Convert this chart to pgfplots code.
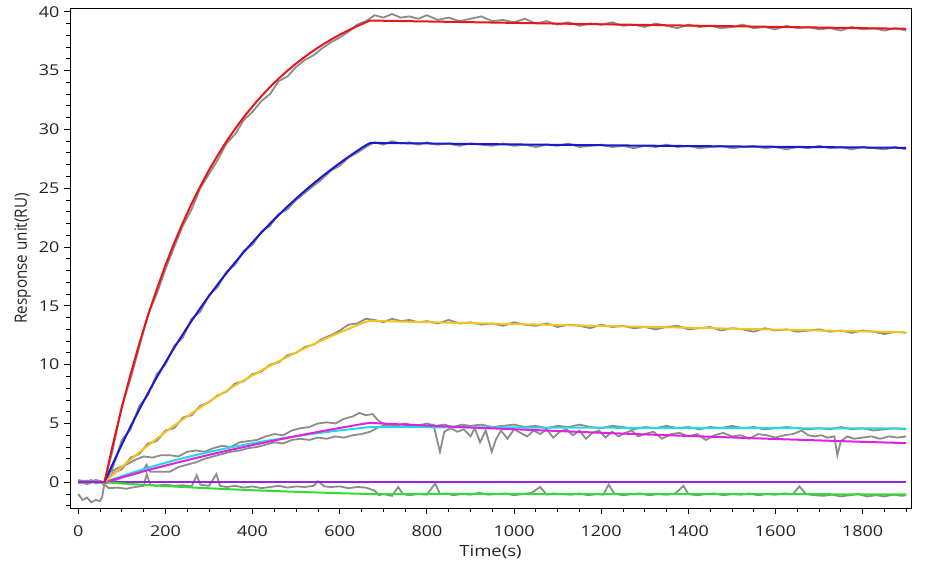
\documentclass[border=0pt]{standalone}
\usepackage{pgfplots}
\pgfplotsset{compat=1.18}
\usepackage{fontspec}
\setmainfont{Open Sans}
\newfontfamily\tickfont[FakeStretch=1.2]{Open Sans}
\newfontfamily\ylabfont[FakeStretch=0.9]{Open Sans}
\definecolor{cred}{RGB}{232,22,22}
\definecolor{cblue}{RGB}{25,25,205}
\definecolor{cyel}{RGB}{242,196,28}
\definecolor{ccyan}{RGB}{30,220,230}
\definecolor{cmag}{RGB}{228,30,228}
\definecolor{cpur}{RGB}{145,40,225}
\definecolor{cgreen}{RGB}{50,220,50}
\definecolor{cgray}{RGB}{140,140,140}
\definecolor{ctext}{RGB}{35,35,35}
\begin{document}
\begin{tikzpicture}
\begin{axis}[
  scale only axis, width=841bp, height=500bp,
  xmin=-19, xmax=1911, ymin=-2.21, ymax=40.29,
  axis line style={black, line width=0.9bp},
  tick pos=left, tick align=outside,
  xtick={0,200,...,1800}, minor xtick={0,50,...,1900},
  ytick={0,5,...,40}, minor ytick={-2,-1,...,40},
  major tick length=6bp, minor tick length=4bp,
  every tick/.style={black, line width=0.8bp},
  /pgf/number format/assume math mode=true,
  /pgf/number format/1000 sep={},
  tick label style={font=\tickfont\fontsize{15}{15}\selectfont, text=ctext},
  xticklabel style={anchor=base, yshift=-22bp},
  yticklabel style={anchor=east, xshift=-1bp},
  xlabel={Time(s)}, ylabel={Response unit(RU)},
  every axis x label/.style={at={([yshift=-47.7bp]axis description cs:0.5,0)}, anchor=base, font=\tickfont\fontsize{15.5}{15.5}\selectfont, text=ctext},
  every axis y label/.style={at={([xshift=-43bp]axis description cs:0,0.5)}, rotate=90, anchor=base, font=\ylabfont\fontsize{17}{17}\selectfont, text=ctext},
  clip=true,
]
% ---------- raw data (gray) ----------
\addplot[cgray, line width=1.8bp] coordinates {(0,0.1)(20,-0.1)(40,0.2)(60,0)(80,2.9)(100,6.5)(120,8.8)(140,11.5)(160,14.3)(180,16.0)(200,18.1)(220,20.0)(240,21.8)(260,23.2)(280,25.0)(300,26.2)(320,27.4)(340,28.8)(360,29.6)(380,30.8)(400,31.5)(420,32.4)(440,33.0)(460,34.1)(480,34.5)(500,35.3)(520,35.9)(540,36.3)(560,36.9)(580,37.4)(600,37.8)(620,38.3)(640,38.9)(660,39.2)(680,39.7)(700,39.5)(720,39.8)(740,39.5)(760,39.6)(780,39.4)(800,39.7)(825,39.3)(850,39.5)(875,39.2)(900,39.4)(925,39.6)(950,39.2)(975,39.3)(1000,39.1)(1025,39.4)(1050,39.0)(1075,39.2)(1100,38.9)(1125,39.1)(1150,38.8)(1175,39.0)(1200,38.9)(1225,39.1)(1250,38.8)(1275,38.9)(1300,38.7)(1325,39.0)(1350,38.8)(1375,38.6)(1400,38.9)(1425,38.7)(1450,38.8)(1475,38.6)(1500,38.7)(1525,38.9)(1550,38.6)(1575,38.7)(1600,38.5)(1625,38.8)(1650,38.6)(1675,38.7)(1700,38.5)(1725,38.6)(1750,38.4)(1775,38.7)(1800,38.5)(1825,38.6)(1850,38.4)(1875,38.6)(1900,38.4)};
\addplot[cgray, line width=1.8bp] coordinates {(0,-0.1)(20,0.15)(40,-0.05)(60,0)(80,1.3)(100,3.6)(120,4.5)(140,6.5)(160,7.4)(180,9.2)(200,10.0)(220,11.6)(240,12.3)(260,13.9)(280,14.5)(300,15.9)(320,16.6)(340,17.9)(360,18.5)(380,19.7)(400,20.2)(420,21.3)(440,21.8)(460,22.8)(480,23.2)(500,24.0)(520,24.6)(540,25.2)(560,25.8)(580,26.5)(600,26.9)(620,27.6)(640,28.0)(660,28.5)(680,28.9)(700,28.7)(720,29.0)(740,28.8)(760,28.9)(780,28.7)(800,28.9)(825,28.7)(850,28.8)(875,28.6)(900,28.8)(925,28.7)(950,28.6)(975,28.8)(1000,28.6)(1025,28.7)(1050,28.5)(1075,28.7)(1100,28.6)(1125,28.8)(1150,28.5)(1175,28.6)(1200,28.7)(1225,28.5)(1250,28.6)(1275,28.4)(1300,28.6)(1325,28.5)(1350,28.7)(1375,28.5)(1400,28.6)(1425,28.4)(1450,28.5)(1475,28.6)(1500,28.4)(1525,28.5)(1550,28.6)(1575,28.4)(1600,28.5)(1625,28.3)(1650,28.5)(1675,28.4)(1700,28.6)(1725,28.4)(1750,28.5)(1775,28.3)(1800,28.5)(1825,28.4)(1850,28.3)(1875,28.5)(1900,28.3)};
\addplot[cgray, line width=1.8bp] coordinates {(0,0.05)(20,-0.15)(40,0.1)(60,0)(80,0.8)(100,1.1)(120,2.1)(140,2.4)(160,3.3)(180,3.5)(200,4.4)(220,4.6)(240,5.5)(260,5.7)(280,6.5)(300,6.8)(320,7.4)(340,7.7)(360,8.4)(380,8.6)(400,9.2)(420,9.4)(440,10.0)(460,10.2)(480,10.8)(500,11.0)(520,11.5)(540,11.7)(560,12.2)(580,12.5)(600,12.9)(620,13.4)(640,13.5)(660,13.9)(680,13.8)(700,13.6)(720,13.9)(740,13.7)(760,13.8)(780,13.6)(800,13.7)(825,13.5)(850,13.8)(875,13.5)(900,13.6)(925,13.4)(950,13.5)(975,13.3)(1000,13.6)(1025,13.4)(1050,13.3)(1075,13.5)(1100,13.2)(1125,13.4)(1150,13.3)(1175,13.1)(1200,13.4)(1225,13.2)(1250,13.3)(1275,13.1)(1300,13.2)(1325,13.0)(1350,13.2)(1375,13.3)(1400,13.0)(1425,13.1)(1450,13.2)(1475,12.9)(1500,13.1)(1525,13.0)(1550,12.8)(1575,13.1)(1600,12.9)(1625,13.0)(1650,12.8)(1675,12.9)(1700,13.0)(1725,12.8)(1750,12.9)(1775,12.7)(1800,12.9)(1825,12.8)(1850,12.6)(1875,12.8)(1900,12.7)};
\addplot[cgray, line width=1.8bp] coordinates {(0,0.2)(20,0.0)(40,0.15)(60,0)(70,0.8)(90,1.2)(110,1.5)(130,1.9)(150,2.2)(170,2.1)(190,2.3)(210,2.3)(230,2.2)(250,2.6)(270,2.7)(290,2.6)(310,2.9)(330,3.1)(350,3.0)(370,3.4)(390,3.5)(410,3.6)(430,3.9)(450,4.1)(470,4.0)(490,4.4)(510,4.6)(530,4.7)(550,5.0)(570,5.1)(590,5.0)(610,5.4)(630,5.6)(645,5.9)(660,5.7)(675,5.8)(690,5.2)(705,4.9)(720,4.9)(740,4.7)(760,4.9)(780,4.8)(800,5.0)(820,4.8)(840,4.9)(860,4.7)(880,4.9)(900,4.8)(925,4.9)(950,4.7)(975,4.8)(1000,4.9)(1025,4.7)(1050,4.8)(1075,4.6)(1100,4.8)(1125,4.7)(1150,4.9)(1175,4.7)(1200,4.6)(1225,4.8)(1250,4.7)(1275,4.5)(1300,4.7)(1325,4.6)(1350,4.8)(1375,4.6)(1400,4.7)(1425,4.5)(1450,4.7)(1475,4.6)(1500,4.8)(1525,4.6)(1550,4.7)(1575,4.5)(1600,4.6)(1625,4.7)(1650,4.6)(1675,4.5)(1700,4.6)(1725,4.5)(1750,4.7)(1775,4.5)(1800,4.6)(1825,4.4)(1850,4.5)(1875,4.6)(1900,4.5)};
\addplot[cgray, line width=1.8bp] coordinates {(0,-1.0)(10,-1.5)(20,-1.3)(30,-1.7)(40,-1.5)(50,-1.6)(55,-1.2)(60,-0.1)(80,0.1)(100,0.4)(120,0.6)(140,0.8)(150,1.1)(157,1.5)(165,0.9)(190,0.9)(210,0.9)(230,1.3)(250,1.5)(270,1.7)(290,2.0)(310,2.2)(330,2.4)(350,2.6)(370,2.7)(390,2.9)(410,3.0)(430,3.2)(450,3.4)(470,3.3)(490,3.6)(510,3.7)(530,3.6)(550,3.8)(570,3.7)(590,3.9)(610,3.8)(630,4.0)(650,4.1)(670,4.3)(690,4.7)(710,4.9)(730,4.8)(750,5.0)(770,4.8)(790,4.9)(800,4.7)(815,4.9)(830,2.6)(840,4.3)(855,4.6)(870,4.3)(885,4.5)(900,3.9)(910,4.6)(922,3.4)(935,4.4)(949,2.6)(958,3.6)(970,4.4)(985,3.7)(1000,4.5)(1015,4.2)(1030,3.9)(1045,4.4)(1060,4.1)(1075,4.5)(1090,3.8)(1105,4.3)(1120,4.5)(1135,4.0)(1150,4.4)(1165,3.7)(1180,4.2)(1195,4.4)(1210,3.8)(1225,4.3)(1240,3.9)(1255,4.2)(1270,4.4)(1285,3.9)(1300,4.1)(1320,4.3)(1340,3.7)(1360,4.1)(1380,4.2)(1400,3.9)(1420,4.1)(1440,3.6)(1460,4.0)(1480,4.2)(1500,3.9)(1520,4.0)(1540,3.7)(1560,4.1)(1580,4.0)(1600,3.8)(1620,4.0)(1640,4.1)(1660,4.4)(1675,4.0)(1690,3.9)(1705,4.0)(1720,3.8)(1735,3.9)(1742,2.3)(1750,3.5)(1765,3.9)(1780,3.7)(1800,3.8)(1820,3.9)(1840,3.7)(1860,3.9)(1880,3.8)(1900,3.9)};
\addplot[cgray, line width=1.8bp] coordinates {(0,0.0)(10,0.15)(20,0.05)(30,0.2)(40,-0.1)(50,0.0)(60,-0.2)(70,-0.5)(90,-0.45)(110,-0.55)(130,-0.4)(150,-0.3)(157,0.7)(165,-0.2)(180,-0.3)(200,-0.2)(220,-0.3)(240,-0.25)(260,-0.35)(272,0.6)(280,-0.2)(300,-0.3)(317,0.7)(325,-0.3)(340,-0.4)(360,-0.3)(380,-0.45)(400,-0.35)(420,-0.5)(440,-0.4)(460,-0.3)(480,-0.45)(500,-0.35)(520,-0.4)(540,-0.3)(550,0.1)(565,-0.35)(580,-0.4)(600,-0.35)(620,-0.5)(640,-0.4)(660,-0.45)(680,-0.7)(690,-1.1)(700,-1.0)(720,-1.15)(734,-0.4)(745,-1.0)(760,-1.1)(780,-1.0)(800,-1.05)(819,-0.1)(830,-1.0)(845,-0.95)(860,-1.1)(880,-1.0)(900,-1.05)(920,-0.9)(940,-1.05)(960,-1.0)(980,-0.95)(1000,-1.1)(1020,-1.0)(1040,-0.9)(1060,-0.4)(1075,-1.05)(1090,-0.95)(1110,-1.0)(1130,-1.05)(1150,-0.95)(1170,-1.1)(1190,-1.0)(1205,-1.05)(1217,-0.2)(1230,-0.95)(1250,-1.1)(1270,-1.0)(1290,-0.95)(1310,-1.1)(1330,-1.0)(1350,-1.05)(1370,-0.95)(1389,-0.3)(1400,-1.0)(1420,-1.1)(1440,-1.0)(1460,-0.95)(1480,-1.1)(1500,-1.0)(1520,-1.05)(1540,-0.95)(1560,-1.1)(1580,-1.0)(1600,-1.05)(1620,-0.95)(1640,-1.0)(1655,-0.35)(1670,-1.0)(1690,-1.1)(1710,-1.15)(1730,-1.05)(1750,-1.2)(1770,-1.1)(1790,-1.0)(1810,-1.2)(1830,-1.1)(1850,-1.2)(1870,-1.05)(1890,-1.15)(1900,-1.1)};
% ---------- fits ----------
\addplot[cpur, line width=2bp] coordinates {(0,0)(1900,0)};
\addplot[cgreen, line width=2bp] coordinates {(60,0)(80,-0.050)(100,-0.099)(120,-0.146)(140,-0.192)(160,-0.237)(180,-0.280)(200,-0.321)(220,-0.361)(240,-0.400)(260,-0.438)(280,-0.475)(300,-0.510)(320,-0.544)(340,-0.578)(360,-0.610)(380,-0.641)(400,-0.671)(420,-0.701)(440,-0.729)(460,-0.756)(480,-0.783)(500,-0.809)(520,-0.834)(540,-0.858)(560,-0.881)(580,-0.904)(600,-0.926)(620,-0.947)(640,-0.968)(660,-0.987)(670,-0.997)(900,-0.99)(1200,-1.0)(1500,-1.01)(1900,-1.02)};
\addplot[ccyan, line width=2bp] coordinates {(60,0)(80,0.27)(100,0.52)(120,0.77)(140,1.00)(160,1.23)(180,1.45)(200,1.66)(220,1.86)(240,2.05)(260,2.23)(280,2.41)(300,2.57)(320,2.73)(340,2.89)(360,3.04)(380,3.18)(400,3.32)(420,3.45)(440,3.57)(460,3.69)(480,3.81)(500,3.92)(520,4.03)(540,4.13)(560,4.23)(580,4.32)(600,4.41)(620,4.49)(640,4.58)(660,4.66)(670,4.69)(700,4.70)(800,4.68)(1000,4.66)(1200,4.64)(1400,4.62)(1600,4.60)(1800,4.58)(1900,4.57)};
\addplot[cmag, line width=2bp] coordinates {(60,0)(80,0.214)(100,0.425)(120,0.631)(140,0.834)(160,1.033)(180,1.229)(200,1.421)(220,1.609)(240,1.795)(260,1.976)(280,2.155)(300,2.331)(320,2.503)(340,2.672)(360,2.839)(380,3.002)(400,3.163)(420,3.320)(440,3.476)(460,3.628)(480,3.778)(500,3.924)(520,4.068)(540,4.210)(560,4.349)(580,4.484)(600,4.619)(620,4.751)(640,4.880)(660,5.008)(670,5.05)(700,4.99)(800,4.82)(900,4.66)(1000,4.51)(1100,4.36)(1200,4.21)(1300,4.07)(1400,3.94)(1500,3.81)(1600,3.68)(1700,3.56)(1800,3.44)(1900,3.33)};
\addplot[cyel, line width=2bp] coordinates {(60,0)(80,0.66)(100,1.31)(120,1.93)(140,2.54)(160,3.13)(180,3.71)(200,4.27)(220,4.82)(240,5.34)(260,5.86)(280,6.36)(300,6.85)(320,7.32)(340,7.78)(360,8.23)(380,8.67)(400,9.09)(420,9.50)(440,9.90)(460,10.29)(480,10.67)(500,11.04)(520,11.40)(540,11.74)(560,12.08)(580,12.41)(600,12.73)(620,13.04)(640,13.34)(660,13.64)(670,13.72)(800,13.61)(1000,13.45)(1200,13.29)(1400,13.14)(1600,12.98)(1800,12.83)(1900,12.75)};
\addplot[cblue, line width=2bp] coordinates {(60,0)(80,1.64)(100,3.22)(120,4.74)(140,6.18)(160,7.58)(180,8.91)(200,10.19)(220,11.42)(240,12.59)(260,13.72)(280,14.80)(300,15.84)(320,16.83)(340,17.78)(360,18.70)(380,19.57)(400,20.41)(420,21.22)(440,21.99)(460,22.73)(480,23.44)(500,24.12)(520,24.78)(540,25.40)(560,26.00)(580,26.58)(600,27.13)(620,27.66)(640,28.17)(660,28.65)(670,28.85)(800,28.80)(1000,28.72)(1200,28.65)(1400,28.58)(1600,28.52)(1800,28.46)(1900,28.43)};
\addplot[cred, line width=2bp] coordinates {(60,0)(80,3.31)(100,6.36)(120,9.18)(140,11.78)(160,14.18)(180,16.39)(200,18.44)(220,20.33)(240,22.07)(260,23.68)(280,25.16)(300,26.54)(320,27.80)(340,28.97)(360,30.05)(380,31.05)(400,31.96)(420,32.81)(440,33.60)(460,34.32)(480,34.98)(500,35.60)(520,36.17)(540,36.70)(560,37.18)(580,37.63)(600,38.04)(620,38.42)(640,38.77)(660,39.10)(670,39.25)(800,39.17)(1000,39.05)(1200,38.93)(1400,38.82)(1600,38.71)(1800,38.60)(1900,38.55)};
\end{axis}
\pgfresetboundingbox
\path[use as bounding box] (-70bp,-58.7bp) rectangle (858bp,508.3bp);
\end{tikzpicture}
\end{document}
